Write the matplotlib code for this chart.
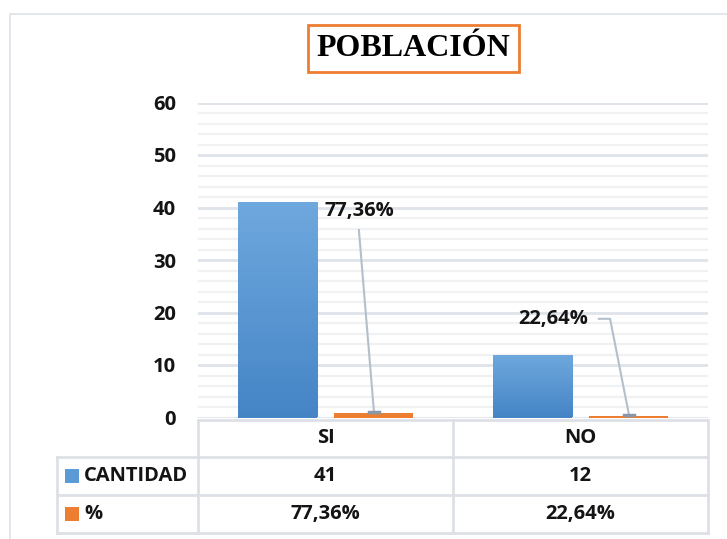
import numpy as np
import matplotlib
matplotlib.use('Agg')
import matplotlib.pyplot as plt
from matplotlib.lines import Line2D
from matplotlib.patches import Rectangle

categories = ['SI', 'NO']
cantidad = [41, 12]
porcentaje = [0.7736, 0.2264]
cantidad_labels = ['41', '12']
porcentaje_labels = ['77,36%', '22,64%']
series_names = ['CANTIDAD', '%']
yticks = [0, 10, 20, 30, 40, 50, 60]

W, H = 727, 539
blue_top = '#6fa8de'
blue_bot = '#4585c6'
orange = '#ed7d31'
grid_major = '#dfe4ea'
grid_minor = '#f0f1f3'
table_col = '#dde1e7'
lead_col = '#b4bfcc'
font = 'Open Sans'
fsz = 14.5
txt_col = '#141414'

fig = plt.figure(figsize=(W / 100, H / 100), dpi=100)

def fx(px):
    return px / W

def fy(py):
    return 1 - py / H

# outer chart border (cropped)
fig.add_artist(Rectangle((fx(10), fy(600)), fx(800), fy(14) - fy(600), transform=fig.transFigure,
                         fill=False, edgecolor='#dde3ea', lw=1.2))

ax = fig.add_axes([fx(198), fy(417.5), fx(708) - fx(198), fy(102.5) - fy(417.5)])
ax.set_xlim(-0.5, 1.5)
ax.set_ylim(0, 60)
for s in ax.spines.values():
    s.set_visible(False)
ax.set_xticks([])
ax.set_yticks(yticks)
ax.set_yticklabels([str(t) for t in yticks], fontsize=fsz, fontweight='bold', family=font, color=txt_col)
ax.tick_params(axis='y', length=0, pad=16)
ax.set_yticks(np.arange(0, 61, 2), minor=True)
ax.tick_params(axis='y', which='minor', length=0)
ax.grid(True, axis='y', which='minor', color=grid_minor, lw=1.6, zorder=0)
ax.grid(True, axis='y', which='major', color=grid_major, lw=2, zorder=0)

x = np.arange(len(categories))
bw = 0.31
off = 0.19
bars = ax.bar(x - off, cantidad, bw, color=blue_bot, zorder=2)
grad = np.linspace(0, 1, 256).reshape(-1, 1)
cmap = matplotlib.colors.LinearSegmentedColormap.from_list('g', [blue_bot, blue_top])
for b in bars:
    x0, w, h = b.get_x(), b.get_width(), b.get_height()
    im = ax.imshow(grad, extent=[x0, x0 + w, 0, h], origin='lower', aspect='auto', cmap=cmap, zorder=3)
    im.set_clip_path(b)
ax.set_xlim(-0.5, 1.5)
ax.set_ylim(0, 60)
ax.bar(x + off, porcentaje, bw, color=orange, zorder=3)

# data labels with leader lines for % series
lab_pos = [(-0.057, 39.4), (-0.296, 18.7)]
lead_pts = [[(-0.059, 35.7)], [(-0.118, 18.8), (-0.074, 18.8)]]
for i in range(len(categories)):
    bx = x[i] + off
    lx, ly = bx + lab_pos[i][0], lab_pos[i][1]
    ax.text(lx, ly, porcentaje_labels[i], ha='center', va='center', fontsize=fsz,
            fontweight='bold', family=font, color=txt_col, zorder=5)
    pts = [(bx + dx, yy) for dx, yy in lead_pts[i]] + [(bx, porcentaje[i] + 0.3)]
    ax.plot([p[0] for p in pts], [p[1] for p in pts], color=lead_col, lw=1.5, zorder=4)
    ax.plot([bx - 0.02, bx + 0.02], [porcentaje[i] + 0.3] * 2, color='#8a97a8', lw=2.5, zorder=4)

# title
fig.text(fx(413.5), fy(48.5), 'POBLACIÓN', ha='center', va='center', fontsize=23,
         fontweight='bold', family='Liberation Serif', color='black',
         bbox=dict(boxstyle='square,pad=0.28', fc='white', ec=orange, lw=2))

# data table below the plot
col_x = [57, 198, 453, 708]
row_y = [419.5, 457, 495, 533]
lw_t = 2

def hline(y, x0, x1):
    fig.add_artist(Line2D([fx(x0), fx(x1)], [fy(y), fy(y)], color=table_col, lw=lw_t))

def vline(xp, y0, y1):
    fig.add_artist(Line2D([fx(xp), fx(xp)], [fy(y0), fy(y1)], color=table_col, lw=lw_t))

hline(row_y[0], col_x[1], col_x[3])
for yy in row_y[1:]:
    hline(yy, col_x[0], col_x[3])
vline(col_x[0], row_y[1], row_y[3])
for xp in col_x[1:]:
    vline(xp, row_y[0], row_y[3])

tkw = dict(ha='center', va='center', fontsize=fsz, fontweight='bold', family=font, color=txt_col)
row_vals = [cantidad_labels, porcentaje_labels]
for i, cat in enumerate(categories):
    cx = (col_x[i + 1] + col_x[i + 2]) / 2
    fig.text(fx(cx), fy((row_y[0] + row_y[1]) / 2), cat, **tkw)
    for r in range(2):
        fig.text(fx(cx), fy((row_y[r + 1] + row_y[r + 2]) / 2), row_vals[r][i], **tkw)

for r, (name, col) in enumerate(zip(series_names, [blue_bot, orange])):
    cy = (row_y[r + 1] + row_y[r + 2]) / 2
    fig.add_artist(Rectangle((fx(65), fy(cy + 7)), fx(14), fy(cy - 7) - fy(cy + 7),
                             transform=fig.transFigure, fc=col if r else '#5b9bd5', ec='none'))
    fig.text(fx(84), fy(cy), name, ha='left', va='center', fontsize=fsz, fontweight='bold',
             family=font, color=txt_col)

fig.savefig('out.png', dpi=100)
